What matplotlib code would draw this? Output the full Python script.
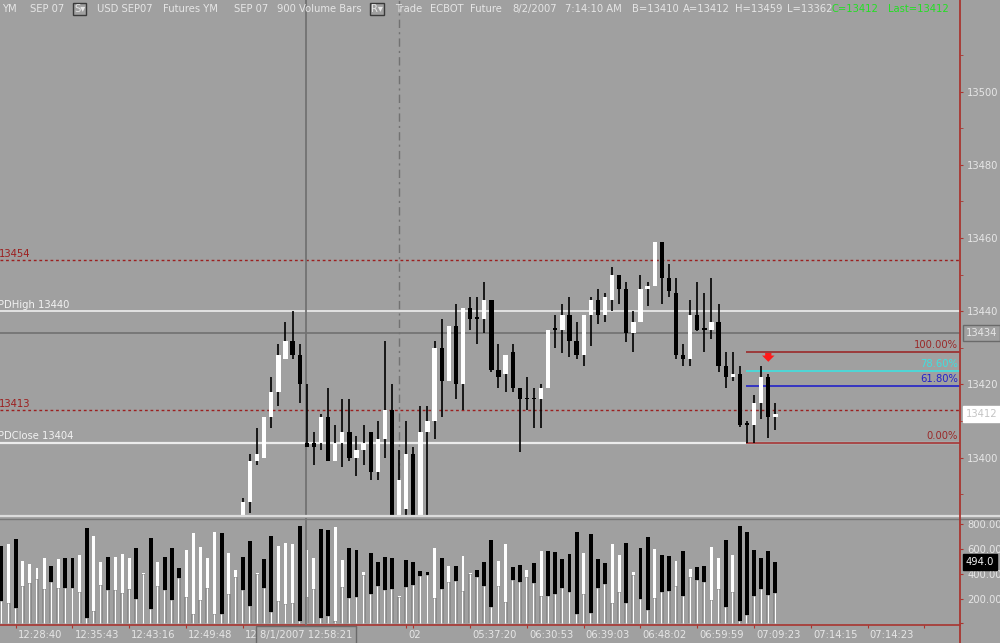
import matplotlib.pyplot as plt
import numpy as np

W, H = 1000, 643
BG = "#a0a0a0"
TXT = "#e6e6e6"
AXRED = "#a83530"
DRED = "#9c1f1f"

nan = np.nan
# bars 0-33 trade below the visible price window (day low 13362)
hidden = [nan] * 34

opens = hidden + [
    13383, 13388, 13399, 13400, 13411, 13418, 13427, 13432, 13428, 13404,
    13404, 13404, 13411, 13399, 13404, 13407, 13400, 13402, 13407, 13396,
    13405, 13413, 13383, 13386, 13401, 13383, 13407, 13410, 13430, 13421,
    13436, 13420, 13441, 13438, 13438, 13443, 13424, 13423, 13429, 13419,
    13416, 13416, 13416, 13419, 13435, 13435, 13439, 13432, 13428, 13439,
    13443, 13439, 13443, 13450, 13446, 13434, 13437, 13446, 13447, 13459,
    13449, 13445, 13428, 13427, 13439, 13435, 13435, 13437, 13425, 13422,
    13423, 13409, 13409, 13415, 13422, 13411]
highs = hidden + [
    13389, 13401, 13408, 13411, 13422, 13431, 13437, 13440, 13431, 13420,
    13407, 13412, 13419, 13409, 13416, 13416, 13406, 13409, 13407, 13410,
    13432, 13420, 13402, 13410, 13403, 13414, 13414, 13432, 13438, 13436,
    13442, 13441, 13444, 13444, 13448, 13443, 13431, 13428, 13431, 13419,
    13422, 13419, 13420, 13435, 13439, 13442, 13444, 13437, 13439, 13444,
    13446, 13445, 13452, 13450, 13448, 13440, 13450, 13448, 13459, 13459,
    13453, 13449, 13431, 13443, 13448, 13445, 13449, 13442, 13429, 13429,
    13425, 13410, 13417, 13425, 13423, 13415]
lows = hidden + [
    13381, 13385, 13398, 13400, 13408, 13414, 13427, 13427, 13415, 13403,
    13398, 13402, 13399, 13399, 13397.5, 13399, 13395, 13398, 13394, 13394,
    13400, 13381, 13382, 13384, 13382, 13382, 13383, 13405, 13411, 13421,
    13416, 13413, 13435, 13431, 13434, 13423.5, 13419, 13418, 13418, 13401.5,
    13413, 13408, 13408, 13419, 13430, 13428.5, 13427.5, 13427, 13425, 13430.5,
    13436.5, 13437, 13440, 13442, 13431.5, 13429, 13437, 13441.5, 13447, 13442,
    13444, 13427, 13425, 13425, 13434.5, 13429, 13432.5, 13423.5, 13419, 13421,
    13408.5, 13404, 13404, 13410.5, 13405.5, 13407.5]
closes = hidden + [
    13388, 13399, 13401, 13411, 13418, 13428, 13432, 13428, 13420, 13403,
    13403, 13411, 13399, 13404, 13407, 13400, 13402, 13404, 13396, 13405,
    13413, 13382, 13394, 13401, 13383, 13407, 13410, 13430, 13421, 13436,
    13420, 13441, 13438, 13438, 13443, 13424, 13422, 13428, 13419, 13416,
    13416, 13416, 13419, 13435, 13435, 13439, 13432, 13428, 13439, 13443,
    13439, 13444, 13450, 13446, 13434, 13437, 13446, 13447, 13459, 13449,
    13445.5, 13428, 13427, 13439, 13435, 13435, 13437, 13425, 13422, 13423,
    13409, 13409, 13415, 13422, 13411, 13412]

volume = [
    629, 640, 683, 505, 478, 451, 532, 467, 521, 526,
    526, 553, 769, 704, 499, 537, 537, 564, 532, 607,
    405, 694, 499, 537, 613, 445, 596, 729, 618, 526,
    737, 729, 570, 429, 537, 667, 405, 521, 710, 629,
    650, 640, 791, 594, 532, 764, 753, 783, 513, 607,
    596, 413, 570, 499, 537, 526, 221, 513, 494, 424,
    418, 607, 532, 467, 462, 548, 405, 429, 499, 677,
    505, 640, 459, 472, 435, 486, 586, 588, 575, 521,
    559, 737, 570, 723, 521, 489, 640, 553, 648, 418,
    613, 696, 602, 553, 548, 505, 586, 440, 459, 467,
    618, 532, 675, 553, 785, 742, 591, 532, 586, 494]
volume_inner = [
    181, 167, 121, 305, 327, 359, 278, 337, 289, 283,
    283, 251, 40, 103, 308, 270, 270, 246, 278, 197,
    397, 116, 305, 267, 192, 364, 213, 78, 189, 283,
    73, 73, 238, 375, 270, 143, 399, 289, 94, 181,
    157, 165, 19, 216, 278, 46, 62, 19, 297, 208,
    213, 391, 240, 305, 267, 278, 216, 297, 310, 386,
    391, 202, 278, 337, 343, 262, 397, 375, 305, 135,
    305, 170, 351, 337, 375, 324, 224, 221, 235, 289,
    251, 73, 240, 86, 289, 321, 167, 256, 162, 391,
    197, 108, 208, 256, 262, 305, 224, 372, 351, 337,
    192, 278, 135, 256, 19, 67, 221, 278, 229, 243]
volume_colors = ("kwkwwwwkwk" "kwkwwkwwwk" "wkwkkkwwww" "wkwwkkwkkw"
                 "wwkwwkkwwk" "kwkkkkwkkk" "kwkwkwwkkk" "wwkkwkwkkk"
                 "kkwkkkwwkw" "kkwkkwkwkk" "wwkwkkkkkk")

time_ticks = [2, 10, 18, 26, 34, 42, 50, 57, 58, 66, 74, 82, 90, 98, 106, 114, 122, 130]
# label at bar 34 is mostly hidden under the cursor box, only "12" shows
time_labels = {2: "12:28:40", 10: "12:35:43", 18: "12:43:16", 26: "12:49:48",
               34: "12", 57: "02", 66: "05:37:20", 74: "06:30:53",
               82: "06:39:03", 90: "06:48:02", 98: "06:59:59", 106: "07:09:23",
               114: "07:14:15", 122: "07:14:23"}

level_13454 = 13454
pd_high = 13440
last_marker = 13434
level_13413 = 13413
pd_close = 13404
last_price = 13412
last_volume = 494.0

fib_low, fib_high = 13404, 13429
fib_ratios = [0.0, 0.618, 0.786, 1.0]
fib_names = ["0.00%", "61.80%", "78.60%", "100.00%"]
fib_colors = ["#9a2a2a", "#2323c8", "#3ee0e0", "#9a2a2a"]
fib_start = 105

cursor_bar = 42.9
session_bar = 56
signal_bar, signal_top, signal_tip = 108, 13428.6, 13426.2

n = len(volume)
x = np.arange(n)
o = np.array(opens, float)
h = np.array(highs, float)
l = np.array(lows, float)
c = np.array(closes, float)


def px(value, total):
    return value / total


fig = plt.figure(figsize=(W / 100, H / 100), dpi=100, facecolor=BG)

# price panel spans y = 0..515 px, x = 0..960 px
ax = fig.add_axes([0, px(H - 515, H), 0.96, px(515, H)], facecolor=BG)
ax.set_xlim(-0.21, 135)
ax.set_ylim(13384.34, 13525.05)
for s in ax.spines.values():
    s.set_visible(False)
ax.set_xticks([])
ax.yaxis.tick_right()
ax.set_yticks(np.arange(13400, 13501, 20))
ax.set_yticks(np.arange(13390, 13511, 20), minor=True)
ax.tick_params(axis="y", which="both", colors=AXRED, labelcolor=TXT,
               length=2, pad=3, labelsize=7.2, direction="out")

# horizontal reference lines
ax.axhline(level_13454, color=DRED, lw=1, ls=(0, (2, 2)), zorder=1)
ax.axhline(level_13413, color=DRED, lw=1, ls=(0, (2, 2)), zorder=1)
ax.axhline(pd_high, color="#f4f4f4", lw=1.1, zorder=1)
ax.axhline(pd_close, color="#ececec", lw=1.6, zorder=1)
ax.axhline(last_marker, color="#6c6c6c", lw=1.1, zorder=1)

lab = dict(xycoords=("axes fraction", "data"), textcoords="offset pixels",
           va="bottom", ha="left", fontsize=7.2)
ax.annotate(str(level_13454), (0, level_13454), xytext=(-1, 1), color=DRED, **lab)
ax.annotate(str(level_13413), (0, level_13413), xytext=(-1, 1), color=DRED, **lab)
ax.annotate("PDHigh %d" % pd_high, (0, pd_high), xytext=(-2, 1), color="#f2f2f2", **lab)
ax.annotate("PDClose %d" % pd_close, (0, pd_close), xytext=(-2, 2), color="#f2f2f2", **lab)

# fibonacci retracement
for r, name, col in zip(fib_ratios, fib_names, fib_colors):
    lvl = fib_low + r * (fib_high - fib_low)
    ax.hlines(lvl, fib_start - 0.15, 135, color=col, lw=1.2, zorder=2)
    ax.annotate(name, (0.998, lvl), xycoords=("axes fraction", "data"),
                xytext=(0, 2), textcoords="offset pixels", ha="right",
                va="bottom", fontsize=7.2, color=col)

# cursor and session lines
ax.axvline(cursor_bar, color="#727272", lw=1.3, zorder=2)
ax.axvline(session_bar, color="#727272", lw=1, ls=(0, (6, 3, 1.5, 3)), zorder=2)

# candles
ok = ~np.isnan(o)
ax.vlines(x[ok], l[ok], h[ok], color="black", lw=1.2, zorder=3)
body_lo = np.minimum(o, c)
body_h = np.maximum(np.abs(c - o), 0.35)
cols = np.where(c > o, "white", "black")
ax.bar(x[ok], body_h[ok], bottom=body_lo[ok], width=0.6, color=cols[ok],
       linewidth=0, zorder=4)

ax.annotate("", xy=(signal_bar, signal_tip), xytext=(signal_bar, signal_top),
            arrowprops=dict(arrowstyle="simple,head_length=0.5,head_width=1.0,tail_width=0.5",
                            fc="#ff1a1a", ec="none", shrinkA=0, shrinkB=0,
                            mutation_scale=9), zorder=5)

# axis value boxes
box = dict(xycoords=("axes fraction", "data"), textcoords="offset pixels",
           ha="left", va="center", fontsize=7.2, annotation_clip=False)
ax.annotate(str(last_marker), (1, last_marker), xytext=(6, 0), color=TXT,
            bbox=dict(boxstyle="square,pad=0.3", fc=BG, ec="#6a6a6a", lw=1), **box)
ax.annotate(str(last_price), (1, last_price), xytext=(6, 0), color="#c4c4c4",
            bbox=dict(boxstyle="square,pad=0.3", fc="white", ec="white", lw=1), **box)

# header
header = [(2, "YM"), (30, "SEP 07"), (97, "USD SEP07"), (163, "Futures YM"),
          (234, "SEP 07"), (277, "900 Volume Bars"), (395, "Trade"), (430, "ECBOT"),
          (470, "Future"), (512, "8/2/2007"), (565, "7:14:10 AM"), (632, "B=13410"),
          (683, "A=13412"), (735, "H=13459"), (787, "L=13362")]
for hx, s in header:
    fig.text(hx / W, 1 - 9 / H, s, color=TXT, fontsize=7.2, va="center")
for hx, s in [(832, "C=13412"), (888, "Last=13412")]:
    fig.text(hx / W, 1 - 9 / H, s, color="#22e022", fontsize=7.2, va="center")
for hx, s in [(74, "S▾"), (371, "R▾")]:
    fig.text(hx / W, 1 - 9 / H, s, color=TXT, fontsize=7.2, va="center",
             bbox=dict(boxstyle="square,pad=0.12", fc="none", ec="#3a3a3a", lw=1))

# volume panel spans y = 518..625 px
av = fig.add_axes([0, px(H - 625, H), 0.96, px(107, H)], facecolor=BG)
av.set_xlim(-0.21, 135)
av.set_ylim(-13.8, 852.6)
for name, s in av.spines.items():
    s.set_visible(name == "bottom")
av.spines["bottom"].set_color(AXRED)
av.spines["bottom"].set_linewidth(1.2)
vcols = ["black" if ch == "k" else "white" for ch in volume_colors]
vwid = [0.55 if ch == "k" else 0.42 for ch in volume_colors]
av.bar(x, volume, width=vwid, color=vcols, linewidth=0, zorder=2)
av.bar(x, volume_inner, width=0.55, color="#8a8a8a", linewidth=0, zorder=3)
av.vlines(x - 0.08, 0, volume_inner, color="white", lw=1, zorder=4)
av.axvline(cursor_bar, color="#727272", lw=1.3, zorder=5)

av.yaxis.tick_right()
av.set_yticks([0, 200, 400, 600, 800])
av.set_yticklabels(["", "200.00", "400.00", "600.00", "800.00"])
av.set_xticks(time_ticks)
av.set_xticklabels([])
av.tick_params(axis="both", colors=AXRED, labelcolor=TXT, length=2.2, pad=3,
               labelsize=7.2, direction="out")
for t, s in time_labels.items():
    av.annotate(s, (t, 0), xycoords=("data", "axes fraction"), xytext=(2, -10),
                textcoords="offset pixels", ha="left", va="center",
                fontsize=7.2, color=TXT, annotation_clip=False)
av.annotate("8/1/2007 12:58:21", (cursor_bar, 0), xycoords=("data", "axes fraction"),
            xytext=(0, -10), textcoords="offset pixels", ha="center", va="center",
            fontsize=7.2, color=TXT, annotation_clip=False, zorder=10,
            bbox=dict(boxstyle="square,pad=0.4", fc=BG, ec="#6a6a6a", lw=1))
av.annotate("%.1f" % last_volume, (1, last_volume), xycoords=("axes fraction", "data"),
            xytext=(6, 0), textcoords="offset pixels", ha="left", va="center",
            fontsize=7.2, color="#f0f0f0", annotation_clip=False,
            bbox=dict(boxstyle="square,pad=0.3", fc="black", ec="black", lw=1))

# panel separator and right axis line
fig.add_artist(plt.Line2D([0, 1], [1 - 516 / H] * 2, color="#dcdcdc", lw=1.6))
fig.add_artist(plt.Line2D([0, 1], [1 - 518.5 / H] * 2, color="#787878", lw=1))
fig.add_artist(plt.Line2D([0.96, 0.96], [0, 1], color=AXRED, lw=1.3))

fig.savefig("out.png", dpi=100, facecolor=BG)
